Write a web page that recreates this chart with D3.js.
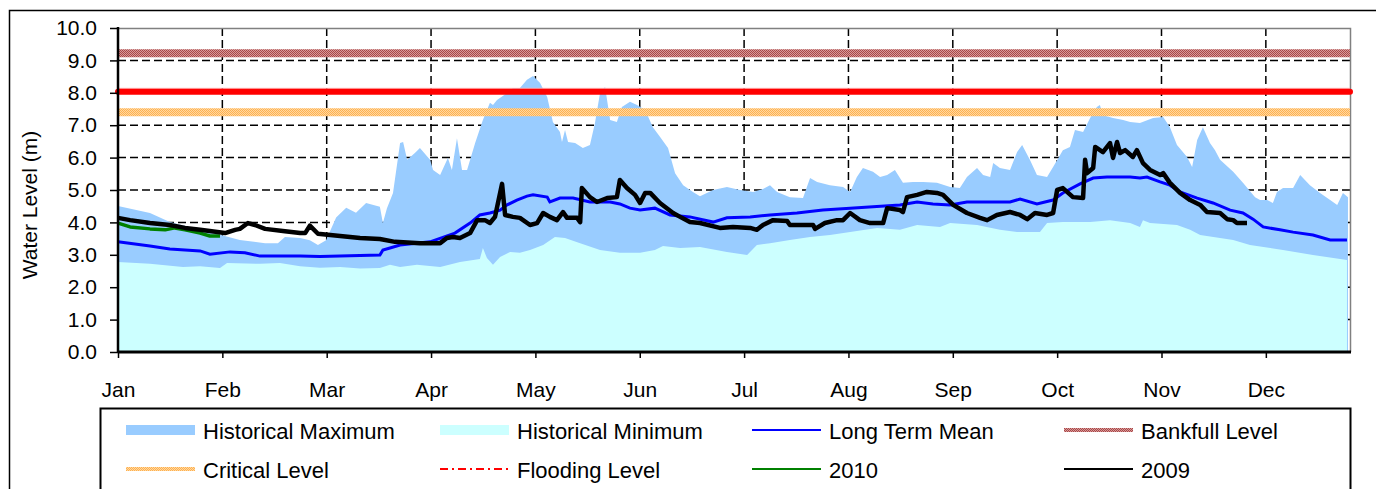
<!DOCTYPE html>
<html>
<head>
<meta charset="utf-8">
<script src="https://cdn.jsdelivr.net/npm/d3@7"></script>
<style>
  body { margin: 0; background: #fff; }
  text { font-family: "Liberation Sans", Arial, sans-serif; fill: #000; }
</style>
</head>
<body>
<div id="chart"></div>
<script>
// month labels sit on every 31st day of the axis
var months = ["Jan", "Feb", "Mar", "Apr", "May", "Jun", "Jul", "Aug", "Sep", "Oct", "Nov", "Dec"];
var levelTicks = [0, 1, 2, 3, 4, 5, 6, 7, 8, 9, 10];

var bankfullLevel = 9.22,
	floodingLevel = 8.03,
	criticalLevel = 7.40;

var maxDay = [0, 9.5, 15.4, 30.6, 36.2, 43.7, 47.5, 49.6, 54.1, 57.0, 59.4, 61.8, 64.8, 67.8, 70.7, 73.7, 77.8, 78.7, 79.9, 81.7, 83.8, 84.7, 85.9, 88.2, 89.7, 92.7, 93.6, 95.7, 98.0, 99.2, 100.7, 102.2, 103.7, 106.1, 108.4, 110.5, 111.4, 112.6, 115.6, 117.3, 119.4, 121.5, 123.3, 125.4, 127.5, 129.2, 131.3, 131.9, 132.8, 133.7, 135.8, 138.1, 140.2, 141.7, 143.2, 144.7, 146.2, 148.2, 149.7, 152.1, 154.2, 156.6, 158.9, 161.0, 163.4, 165.5, 167.9, 170.8, 172.9, 176.8, 180.9, 184.8, 188.7, 191.6, 193.7, 195.8, 199.6, 203.5, 205.6, 207.7, 211.5, 215.4, 217.5, 219.5, 221.3, 224.3, 226.4, 228.5, 230.8, 233.2, 236.2, 239.2, 243.3, 247.2, 250.1, 252.2, 255.2, 257.0, 259.1, 260.0, 262.0, 265.0, 267.1, 268.6, 270.9, 273.0, 276.0, 277.8, 280.7, 282.8, 284.3, 286.7, 288.8, 290.8, 291.7, 292.6, 295.6, 298.6, 300.7, 303.6, 307.5, 310.5, 312.5, 314.6, 317.6, 319.1, 320.6, 322.3, 324.4, 325.9, 327.4, 331.3, 334.2, 337.8, 339.3, 341.4, 343.1, 344.3, 346.1, 349.1, 351.2, 354.1, 357.1, 360.1, 362.2, 363.9, 365.4];
var maxLevel = [4.51, 4.29, 4.01, 3.61, 3.46, 3.36, 3.36, 3.55, 3.52, 3.45, 3.30, 3.45, 4.15, 4.45, 4.30, 4.60, 4.48, 3.98, 4.44, 4.91, 6.45, 6.48, 5.93, 6.14, 6.30, 5.93, 5.62, 5.46, 5.99, 5.62, 6.60, 5.62, 5.62, 6.45, 7.16, 7.69, 7.62, 7.78, 7.99, 8.15, 8.15, 8.40, 8.52, 8.30, 7.87, 7.10, 6.79, 6.48, 6.85, 6.48, 6.45, 6.30, 6.39, 7.07, 7.99, 8.18, 7.16, 7.10, 7.56, 7.72, 7.62, 7.47, 6.94, 6.64, 6.30, 5.52, 5.15, 4.94, 4.81, 5.00, 5.09, 5.00, 4.94, 5.03, 5.15, 4.94, 4.78, 4.75, 5.37, 5.25, 5.15, 5.09, 4.94, 5.40, 5.68, 5.56, 5.40, 5.46, 5.62, 5.22, 5.25, 5.25, 5.22, 5.09, 5.06, 5.40, 5.68, 5.46, 5.40, 5.83, 5.68, 5.62, 6.17, 6.39, 5.93, 5.46, 5.40, 5.71, 6.23, 6.33, 6.85, 6.79, 7.22, 7.56, 7.62, 7.31, 7.22, 7.16, 7.10, 7.07, 7.22, 7.25, 6.94, 6.39, 6.02, 5.71, 6.54, 6.94, 6.45, 6.23, 5.93, 5.56, 5.22, 4.78, 4.69, 4.69, 4.60, 4.94, 5.06, 5.06, 5.46, 5.15, 4.91, 4.69, 4.54, 4.91, 4.78];

var minDay = [0, 9.5, 19.3, 24.4, 30.3, 32.4, 42.2, 48.1, 54.1, 60.0, 66.0, 71.9, 77.8, 80.8, 83.8, 88.8, 95.7, 101.6, 107.5, 108.4, 109.6, 111.4, 113.5, 116.5, 119.4, 122.4, 126.3, 129.8, 132.8, 137.3, 143.2, 149.1, 155.1, 159.5, 161.9, 167.0, 172.9, 180.9, 186.9, 189.8, 193.7, 199.6, 205.6, 211.5, 217.5, 225.5, 232.3, 237.4, 244.2, 247.2, 255.2, 262.0, 267.1, 273.9, 276.0, 280.7, 288.8, 294.7, 300.7, 303.6, 304.5, 306.6, 314.6, 318.5, 321.5, 331.3, 336.3, 346.1, 355.0, 365.1];
var minLevel = [2.78, 2.72, 2.62, 2.65, 2.59, 2.75, 2.72, 2.75, 2.65, 2.60, 2.62, 2.58, 2.59, 2.69, 2.62, 2.69, 2.62, 2.78, 2.87, 3.21, 2.90, 2.69, 2.93, 3.09, 3.06, 3.15, 3.30, 3.55, 3.52, 3.36, 3.15, 3.06, 3.06, 3.15, 3.27, 3.21, 3.24, 3.09, 2.99, 3.30, 3.36, 3.46, 3.55, 3.61, 3.70, 3.83, 3.77, 3.92, 3.86, 3.98, 3.92, 3.77, 3.70, 3.70, 3.98, 4.01, 4.01, 4.07, 3.98, 3.86, 4.07, 3.98, 3.92, 3.77, 3.61, 3.46, 3.30, 3.15, 2.99, 2.84];

var meanDay = [0, 9.5, 15.4, 24.4, 27.3, 33.3, 37.7, 42.2, 54.1, 60.0, 68.9, 77.8, 78.7, 80.8, 83.8, 92.7, 100.1, 104.6, 107.5, 110.5, 113.5, 115.6, 118.5, 121.5, 123.3, 127.5, 128.3, 131.3, 135.2, 140.2, 146.2, 149.1, 152.1, 155.1, 159.5, 164.0, 169.9, 176.8, 180.9, 187.8, 193.7, 201.7, 209.4, 217.5, 224.3, 232.3, 237.4, 242.1, 247.2, 252.2, 265.0, 268.0, 273.0, 277.8, 280.7, 285.8, 289.7, 293.8, 300.7, 303.6, 305.7, 309.6, 312.5, 315.5, 320.6, 325.3, 330.4, 334.2, 337.2, 340.2, 345.2, 349.1, 355.0, 360.1, 365.1];
var meanLevel = [3.40, 3.27, 3.18, 3.12, 3.02, 3.09, 3.06, 2.96, 2.96, 2.95, 2.97, 2.99, 3.15, 3.21, 3.30, 3.40, 3.67, 3.98, 4.23, 4.29, 4.38, 4.54, 4.69, 4.81, 4.85, 4.78, 4.63, 4.75, 4.75, 4.63, 4.63, 4.57, 4.44, 4.38, 4.44, 4.23, 4.17, 4.01, 4.14, 4.17, 4.23, 4.29, 4.38, 4.44, 4.48, 4.54, 4.63, 4.57, 4.54, 4.63, 4.63, 4.72, 4.57, 4.69, 4.91, 5.19, 5.37, 5.40, 5.40, 5.37, 5.40, 5.25, 5.15, 4.94, 4.75, 4.60, 4.38, 4.29, 4.10, 3.86, 3.77, 3.70, 3.61, 3.46, 3.46];

var day2009 = [0, 3.6, 9.5, 15.4, 19.9, 24.4, 31.8, 34.8, 36.2, 38.6, 40.7, 43.7, 49.6, 54.1, 55.6, 57.0, 59.4, 66.0, 71.9, 77.8, 82.3, 89.7, 95.7, 97.7, 99.5, 101.6, 104.6, 106.7, 109.0, 110.5, 112.0, 114.1, 115.0, 117.3, 119.4, 122.4, 124.5, 126.3, 128.3, 130.4, 132.2, 133.4, 136.4, 137.3, 137.8, 140.2, 142.3, 145.3, 148.2, 149.1, 151.2, 153.6, 155.1, 156.6, 158.1, 161.0, 164.9, 167.0, 169.9, 172.9, 178.8, 182.7, 187.8, 189.8, 191.6, 194.6, 198.8, 199.6, 206.5, 207.1, 210.0, 213.6, 215.4, 217.5, 220.4, 223.4, 227.3, 228.5, 232.3, 233.2, 234.4, 237.4, 240.3, 243.3, 245.1, 248.1, 252.2, 256.1, 258.2, 261.1, 265.0, 268.0, 270.1, 272.4, 276.0, 277.8, 279.0, 280.7, 283.7, 286.7, 287.3, 287.9, 289.7, 290.3, 292.6, 294.7, 295.6, 296.8, 297.7, 299.2, 301.5, 302.7, 304.5, 306.6, 309.6, 310.5, 312.5, 315.5, 318.5, 321.5, 323.5, 327.4, 329.5, 331.3, 332.4, 335.4];
var level2009 = [4.14, 4.07, 3.98, 3.92, 3.83, 3.77, 3.67, 3.77, 3.80, 3.98, 3.92, 3.80, 3.73, 3.67, 3.67, 3.90, 3.65, 3.58, 3.52, 3.49, 3.40, 3.36, 3.36, 3.52, 3.55, 3.52, 3.67, 4.07, 4.07, 3.98, 4.17, 5.19, 4.23, 4.17, 4.14, 3.92, 3.98, 4.29, 4.17, 4.07, 4.32, 4.14, 4.14, 4.01, 5.06, 4.78, 4.63, 4.75, 4.78, 5.31, 5.06, 4.85, 4.60, 4.91, 4.91, 4.60, 4.29, 4.17, 4.01, 3.98, 3.83, 3.86, 3.83, 3.77, 3.92, 4.07, 4.04, 3.92, 3.92, 3.80, 3.98, 4.07, 4.07, 4.29, 4.07, 3.98, 3.98, 4.44, 4.38, 4.32, 4.78, 4.85, 4.94, 4.91, 4.85, 4.54, 4.29, 4.14, 4.07, 4.23, 4.32, 4.23, 4.10, 4.29, 4.23, 4.29, 5.00, 5.06, 4.78, 4.75, 5.93, 5.52, 5.68, 6.33, 6.17, 6.45, 5.99, 6.48, 6.14, 6.23, 6.02, 6.23, 5.83, 5.62, 5.46, 5.52, 5.22, 4.91, 4.69, 4.54, 4.32, 4.29, 4.10, 4.07, 3.98, 3.98];

var day2010 = [0, 3.6, 9.5, 14.0, 16.9, 19.9, 24.4, 27.3, 30.3];
var level2010 = [3.98, 3.86, 3.80, 3.77, 3.83, 3.77, 3.67, 3.58, 3.58];

var width = 1376,
	height = 489,
	plotLeft = 118,
	plotRight = 1350,
	plotTop = 28,
	plotBottom = 352,
	fontSize = 21,
	legendFontSize = 22;

var svg = d3.select("#chart").append("svg")
	.attr("width", width)
	.attr("height", height);

var defs = svg.append("defs");

function hatch(id, base, dot) {
	var p = defs.append("pattern")
		.attr("id", id)
		.attr("width", 2)
		.attr("height", 2)
		.attr("patternUnits", "userSpaceOnUse");
	p.append("rect").attr("width", 2).attr("height", 2).attr("fill", base);
	p.append("rect").attr("width", 1).attr("height", 1).attr("fill", dot);
	p.append("rect").attr("x", 1).attr("y", 1).attr("width", 1).attr("height", 1).attr("fill", dot);
}
hatch("bankfull", "#d89a9a", "#a84848");
hatch("critical", "#ffd8a0", "#ffb050");

// outer chart frame
svg.append("rect")
	.attr("x", 9.5)
	.attr("y", 10.5)
	.attr("width", 1400)
	.attr("height", 600)
	.attr("fill", "none")
	.attr("stroke", "#000")
	.attr("stroke-width", 1.5);

var x = d3.scaleLinear().domain([0, 366]).range([plotLeft, plotRight]);
var y = d3.scaleLinear().domain([0, 10]).range([plotBottom, plotTop]);

function pairs(days, vals) {
	return days.map(function(d, i) { return {day: d, v: vals[i]}; });
}

// gridlines sit behind the areas
var grid = svg.append("g").attr("class", "grid");
grid.selectAll("line.h")
	.data(levelTicks.slice(1, 10))
	.enter().append("line")
	.attr("x1", plotLeft).attr("x2", plotRight)
	.attr("y1", function(d) { return y(d); })
	.attr("y2", function(d) { return y(d); })
	.attr("stroke", "#000")
	.attr("stroke-width", 1.5)
	.attr("stroke-dasharray", "8,4");
grid.selectAll("line.v")
	.data(d3.range(1, 12))
	.enter().append("line")
	.attr("x1", function(d) { return x(d * 31); })
	.attr("x2", function(d) { return x(d * 31); })
	.attr("y1", plotTop).attr("y2", plotBottom)
	.attr("stroke", "#000")
	.attr("stroke-width", 1.5)
	.attr("stroke-dasharray", "8,4");

var area = d3.area()
	.x(function(d) { return x(d.day); })
	.y0(y(0))
	.y1(function(d) { return y(d.v); });

svg.append("path")
	.datum(pairs(maxDay, maxLevel))
	.attr("d", area)
	.attr("fill", "#99ccff");

svg.append("path")
	.datum(pairs(minDay, minLevel))
	.attr("d", area)
	.attr("fill", "#ccffff");

// plot frame: grey top and right
svg.append("path")
	.attr("d", "M" + plotLeft + "," + (plotTop + 0.5) + "H" + (plotRight + 0.5) + "V" + plotBottom)
	.attr("fill", "none")
	.attr("stroke", "#808080")
	.attr("stroke-width", 1.5);

var line = d3.line()
	.x(function(d) { return x(d.day); })
	.y(function(d) { return y(d.v); });

svg.append("path")
	.datum(pairs(meanDay, meanLevel))
	.attr("d", line)
	.attr("fill", "none")
	.attr("stroke", "#0000ff")
	.attr("stroke-width", 3);

// threshold bands
svg.append("line")
	.attr("x1", plotLeft).attr("x2", plotRight)
	.attr("y1", y(bankfullLevel)).attr("y2", y(bankfullLevel))
	.attr("stroke", "url(#bankfull)")
	.attr("stroke-width", 8);
svg.append("line")
	.attr("x1", plotLeft).attr("x2", plotRight)
	.attr("y1", y(criticalLevel)).attr("y2", y(criticalLevel))
	.attr("stroke", "url(#critical)")
	.attr("stroke-width", 8);
svg.append("line")
	.attr("x1", plotLeft).attr("x2", plotRight)
	.attr("y1", y(floodingLevel) - 3.5).attr("y2", y(floodingLevel) - 3.5)
	.attr("stroke", "#ffb0b0")
	.attr("stroke-width", 1);
svg.append("line")
	.attr("x1", plotLeft).attr("x2", plotRight)
	.attr("y1", y(floodingLevel)).attr("y2", y(floodingLevel))
	.attr("stroke", "#ff0000")
	.attr("stroke-width", 6)
	.attr("stroke-linecap", "round");

svg.append("path")
	.datum(pairs(day2010, level2010))
	.attr("d", line)
	.attr("fill", "none")
	.attr("stroke", "#008000")
	.attr("stroke-width", 3.5)
	.attr("stroke-linejoin", "round");

svg.append("path")
	.datum(pairs(day2009, level2009))
	.attr("d", line)
	.attr("fill", "none")
	.attr("stroke", "#000")
	.attr("stroke-width", 4.5)
	.attr("stroke-linejoin", "round");

// axes
var yAxis = svg.append("g")
	.attr("transform", "translate(" + plotLeft + ",0)")
	.call(d3.axisLeft(y).tickValues(levelTicks).tickFormat(d3.format(".1f")).tickSize(8).tickPadding(13));
var xAxis = svg.append("g")
	.attr("transform", "translate(0," + plotBottom + ")")
	.call(d3.axisBottom(x).tickValues(d3.range(0, 12).map(function(i) { return i * 31; }))
		.tickFormat(function(d) { return months[d / 31]; }).tickSize(6).tickPadding(24));

[yAxis, xAxis].forEach(function(g) {
	g.select(".domain").attr("stroke", "#000").attr("stroke-width", 2.5);
	g.selectAll(".tick line").attr("stroke", "#000").attr("stroke-width", 1.5);
	g.selectAll("text")
		.attr("font-size", fontSize)
		.attr("font-family", "Liberation Sans, Arial, sans-serif")
		.attr("fill", "#000");
});
yAxis.select(".domain").attr("d", "M0," + (plotTop - 1) + "V" + plotBottom);
xAxis.select(".domain").attr("d", "M" + plotLeft + ",0H" + (plotRight + 1)).attr("stroke-width", 3);

svg.append("text")
	.attr("transform", "translate(37,205) rotate(-90)")
	.attr("text-anchor", "middle")
	.attr("font-size", fontSize)
	.text("Water Level (m)");

// legend
var legend = svg.append("g");
legend.append("rect")
	.attr("x", 100.5)
	.attr("y", 408.5)
	.attr("width", 1250)
	.attr("height", 200)
	.attr("fill", "#fff")
	.attr("stroke", "#000")
	.attr("stroke-width", 2);

var legendItems = [
	{name: "Historical Maximum", kind: "area", color: "#99ccff"},
	{name: "Historical Minimum", kind: "area", color: "#ccffff"},
	{name: "Long Term Mean", kind: "line", color: "#0000ff"},
	{name: "Bankfull Level", kind: "band", color: "url(#bankfull)"},
	{name: "Critical Level", kind: "band", color: "url(#critical)"},
	{name: "Flooding Level", kind: "dashdot", color: "#ff0000"},
	{name: "2010", kind: "line", color: "#008000"},
	{name: "2009", kind: "line", color: "#000"}
];
var colX = [203, 517, 829, 1141],
	rowY = [432, 471];

legendItems.forEach(function(item, i) {
	var tx = colX[i % 4], ty = rowY[Math.floor(i / 4)];
	var g = legend.append("g");
	if (item.kind === "area") {
		g.append("rect")
			.attr("x", tx - 77).attr("y", ty - 7)
			.attr("width", 69).attr("height", 10)
			.attr("fill", item.color);
	} else {
		g.append("line")
			.attr("x1", tx - 77).attr("x2", tx - 8)
			.attr("y1", ty - 2).attr("y2", ty - 2)
			.attr("stroke", item.color)
			.attr("stroke-width", item.kind === "band" ? 4 : 2)
			.attr("stroke-dasharray", item.kind === "dashdot" ? "8,4,2,4" : null);
	}
	g.append("text")
		.attr("x", tx)
		.attr("y", ty + 7)
		.attr("font-size", legendFontSize)
		.text(item.name);
});
</script>
</body>
</html>
